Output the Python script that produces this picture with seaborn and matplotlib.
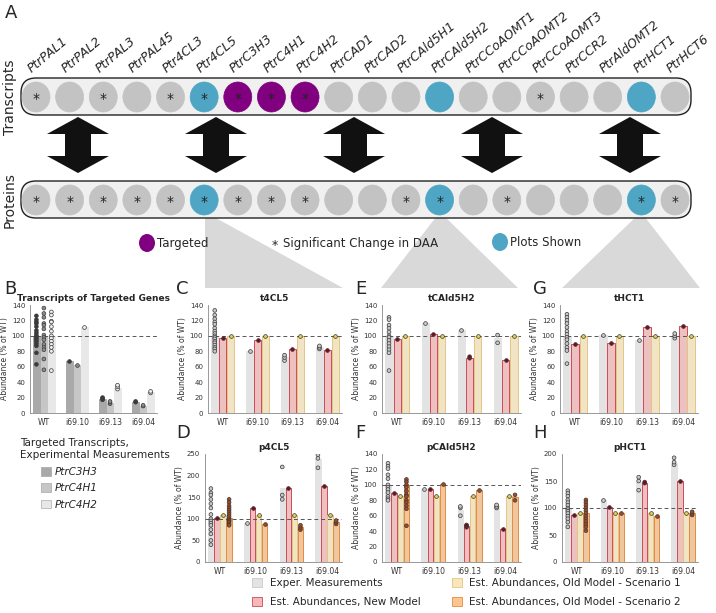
import numpy as np
import pandas as pd
import matplotlib
matplotlib.use('Agg')
import matplotlib.pyplot as plt
import seaborn as sns
from matplotlib.patches import Ellipse, FancyBboxPatch, Polygon, Patch

# --- panel A: genes and their state ---
genes = ['PtrPAL1', 'PtrPAL2', 'PtrPAL3', 'PtrPAL45', 'Ptr4CL3', 'Ptr4CL5', 'PtrC3H3',
         'PtrC4H1', 'PtrC4H2', 'PtrCAD1', 'PtrCAD2', 'PtrCAld5H1', 'PtrCAld5H2',
         'PtrCCoAOMT1', 'PtrCCoAOMT2', 'PtrCCoAOMT3', 'PtrCCR2', 'PtrAldOMT2', 'PtrHCT1', 'PtrHCT6']
tx_kind = ['g', 'g', 'g', 'g', 'g', 'b', 'p', 'p', 'p', 'g', 'g', 'g', 'b', 'g', 'g', 'g', 'g', 'g', 'b', 'g']
tx_star = [1, 0, 1, 0, 1, 1, 1, 1, 1, 0, 0, 0, 0, 0, 0, 1, 0, 0, 0, 0]
pr_kind = ['g', 'g', 'g', 'g', 'g', 'b', 'g', 'g', 'g', 'g', 'g', 'g', 'b', 'g', 'g', 'g', 'g', 'g', 'b', 'g']
pr_star = [1, 1, 1, 1, 1, 1, 1, 1, 1, 0, 0, 1, 1, 0, 1, 0, 0, 0, 1, 1]

lines = ['WT', 'i69.10', 'i69.13', 'i69.04']

# --- panel B: transcripts of targeted genes ---
b_series = ['PtrC3H3', 'PtrC4H1', 'PtrC4H2']
b_c3h3 = [100, 68, 18, 14]
b_c4h1 = [100, 62, 13, 9]
b_c4h2 = [100, 112, 33, 27]
b_c3h3_pts = [[126, 121, 118, 116, 112, 107, 104, 101, 99, 97, 95, 93, 90, 87, 78, 63], [68], [17, 19, 20], [14, 15]]
b_c4h1_pts = [[136, 129, 124, 116, 114, 109, 101, 98, 95, 89, 85, 82, 70, 56], [62], [12, 14, 15], [9, 10]]
b_c4h2_pts = [[131, 127, 119, 118, 112, 106, 100, 97, 93, 89, 85, 80, 55], [112], [31, 34, 36], [26, 28]]

series = ['Exper. Measurements', 'Est. Abundances, New Model',
          'Est. Abundances, Old Model - Scenario 1', 'Est. Abundances, Old Model - Scenario 2']

# --- C: t4CL5 ---
c_exp = [100, 80, 72, 85]
c_new = [97, 94, 83, 82]
c_old1 = [100, 100, 100, 100]
c_exp_pts = [[133, 127, 122, 118, 115, 110, 106, 103, 100, 98, 96, 93, 91, 88, 85, 83, 80], [80], [68, 72, 75], [83, 85, 87]]
c_new_pts = [[97], [94], [83], [82]]
c_old1_pts = [[100], [100], [100], [100]]

# --- D: p4CL5 ---
d_exp = [100, 90, 172, 238]
d_new = [103, 125, 172, 175]
d_old1 = [108, 108, 108, 108]
d_old2 = [103, 87, 80, 93]
d_exp_pts = [[170, 160, 155, 145, 135, 125, 110, 100, 95, 90, 85, 75, 65, 50, 40], [90], [145, 155, 220], [218, 240, 248]]
d_new_pts = [[103], [125], [172], [175]]
d_old1_pts = [[108], [108], [108], [108]]
d_old2_pts = [[145, 138, 130, 125, 120, 115, 110, 105, 100, 97, 95, 92, 88, 85], [87], [75, 80, 85], [88, 92, 96]]

# --- E: tCAld5H2 ---
e_exp = [100, 117, 107, 97]
e_new = [96, 102, 71, 69]
e_old1 = [100, 100, 100, 100]
e_exp_pts = [[124, 121, 114, 110, 105, 100, 98, 94, 90, 86, 82, 78, 55], [117], [107], [91, 101]]
e_new_pts = [[96], [102], [71, 73], [69]]
e_old1_pts = [[100], [100], [100], [100]]

# --- F: pCAld5H2 ---
f_exp = [100, 95, 67, 72]
f_new = [90, 95, 47, 43]
f_old1 = [86, 86, 86, 86]
f_old2 = [100, 101, 93, 84]
f_exp_pts = [[128, 124, 121, 113, 108, 100, 97, 94, 90, 85, 82, 80], [95], [60, 70, 72], [70, 72, 74]]
f_new_pts = [[90], [95], [45, 47, 48], [43]]
f_old1_pts = [[86], [86], [86], [86]]
f_old2_pts = [[107, 104, 100, 97, 92, 87, 85, 80, 77, 73, 69, 47], [101], [93], [80, 87]]

# --- G: tHCT1 ---
g_exp = [100, 101, 95, 100]
g_new = [90, 91, 111, 113]
g_old1 = [100, 100, 100, 100]
g_exp_pts = [[128, 124, 120, 116, 111, 106, 102, 98, 95, 90, 85, 81, 64], [101], [94], [97, 100, 103]]
g_new_pts = [[90], [91], [111], [113]]
g_old1_pts = [[100], [100], [100], [100]]

# --- H: pHCT1 ---
h_exp = [100, 115, 148, 183]
h_new = [87, 101, 147, 150]
h_old1 = [90, 90, 90, 90]
h_old2 = [90, 91, 85, 90]
h_exp_pts = [[132, 127, 122, 115, 110, 105, 100, 97, 94, 90, 85, 80, 74, 65], [115], [133, 150, 157], [180, 185, 193]]
h_new_pts = [[87], [101], [146, 148], [150]]
h_old1_pts = [[90], [90], [90], [90]]
h_old2_pts = [[115, 110, 105, 100, 95, 90, 85, 80, 75, 70, 65, 58], [91], [85], [87, 90, 93]]

bar_fill = ['#e3e3e3', '#f5b9b9', '#f9e7bc', '#fdc690']
bar_edge = ['#e3e3e3', '#cf4a58', '#e5c585', '#e38b42']
pt_fill = ['#c8c8c8', '#7a0d1c', '#e3d04e', '#a8461c']

W, H = 716, 613
BW = 0.68

sns.set_theme(style='white')
plt.rcParams['font.family'] = ['DejaVu Sans']

fig = plt.figure(figsize=(W / 100, H / 100), dpi=100)


def px_rect(l, t, r, b):
    return [l / W, 1 - b / H, (r - l) / W, (b - t) / H]


# overlay for panel A drawing in pixel units
ov = fig.add_axes([0, 0, 1, 1])
ov.set_xlim(0, W)
ov.set_ylim(H, 0)
ov.axis('off')

gene_x = np.linspace(36, 675, len(genes))
kind_col = {'g': '#c3c3c3', 'b': '#4ea6c4', 'p': '#800080'}

# triangles pointing at the panels
for top_x, lx, rx in [(205, 205, 343), (440, 381, 518), (641, 562, 700)]:
    ov.add_patch(Polygon([(top_x, 212), (lx, 288), (rx, 288)], closed=True,
                         fc='#d9d9d9', ec='none', zorder=1))

for cy, kinds, stars in [(97, tx_kind, tx_star), (200, pr_kind, pr_star)]:
    ov.add_patch(FancyBboxPatch((21, cy - 19), 670, 37,
                                boxstyle='round,pad=0,rounding_size=15',
                                fc='#f0f0f0', ec='#222222', lw=1, zorder=2))
    for x, k, s in zip(gene_x, kinds, stars):
        ov.add_patch(Ellipse((x, cy), 28, 30, fc=kind_col[k], ec=kind_col[k], lw=0.5, zorder=3))
        if s:
            ov.text(x, cy + 2, '*', ha='center', va='center', fontsize=10, color='#222', zorder=4)

for x, g in zip(gene_x, genes):
    ov.text(x - 4, 73, g, rotation=40, rotation_mode='anchor', ha='left', va='baseline',
            style='italic', fontsize=9)

ov.text(10, 97, 'Transcripts', rotation=90, ha='center', va='center', fontsize=10)
ov.text(10, 200, 'Proteins', rotation=90, ha='center', va='center', fontsize=10)

# double arrows
for x in [78, 216, 354, 492, 630]:
    t, b, hw, sw, hh = 117, 173, 31, 13, 17
    ov.add_patch(Polygon([(x, t), (x + hw, t + hh), (x + sw, t + hh), (x + sw, b - hh),
                          (x + hw, b - hh), (x, b), (x - hw, b - hh), (x - sw, b - hh),
                          (x - sw, t + hh), (x - hw, t + hh)], closed=True,
                         fc='#111111', ec='none', zorder=2))

# panel A legend
ov.add_patch(Ellipse((147, 243), 16, 18, fc=kind_col['p'], ec='none'))
ov.text(157, 243, 'Targeted', va='center', fontsize=8.5)
ov.text(275, 246, '*', ha='center', va='center', fontsize=9)
ov.text(283, 243, 'Significant Change in DAA', va='center', fontsize=8.5)
ov.add_patch(Ellipse((500, 242), 16, 18, fc=kind_col['b'], ec='none'))
ov.text(510, 242, 'Plots Shown', va='center', fontsize=8.5)


def panel(rect, names, bar_vals, pt_vals, fills, edges, pfills, ylim, yticks, title):
    ax = fig.add_axes(px_rect(*rect))
    bars = pd.DataFrame([(ln, s, v) for s, vals in zip(names, bar_vals) for ln, v in zip(lines, vals)],
                        columns=['line', 'series', 'value'])
    pts = pd.DataFrame([(ln, s, v) for s, groups in zip(names, pt_vals)
                        for ln, grp in zip(lines, groups) for v in grp],
                       columns=['line', 'series', 'value'])
    sns.barplot(data=bars, x='line', y='value', hue='series', order=lines, hue_order=names,
                palette=fills, width=BW, gap=0.1, errorbar=None, legend=False, ax=ax)
    for cont, ec in zip(ax.containers, edges):
        for p in cont:
            p.set_edgecolor(ec)
            p.set_linewidth(0.7)
    ax.axhline(100, color='#555555', ls='--', lw=0.7, dashes=(4, 3), zorder=3)
    sns.stripplot(data=pts, x='line', y='value', hue='series', order=lines, hue_order=names,
                  palette=pfills, dodge=True, jitter=False, size=2.7, linewidth=0.5,
                  edgecolor='#3a3a3a', legend=False, ax=ax, zorder=4)
    # pull the dots in so they sit on the narrower bars
    for coll in ax.collections:
        off = np.asarray(coll.get_offsets()).copy()
        if len(off):
            c = np.round(off[:, 0])
            off[:, 0] = c + (off[:, 0] - c) * BW / 0.8
            coll.set_offsets(off)
    ax.set_xlim(-0.42, 3.42)
    ax.set_ylim(*ylim)
    ax.set_yticks(yticks)
    ax.set_xlabel('')
    ax.set_ylabel('Abundance (% of WT)', fontsize=5.5, labelpad=2, color='#333')
    ax.set_title(title, fontsize=6.5, fontweight='bold', pad=3)
    ax.tick_params(labelsize=5.5, length=2, width=0.5, color='#777', pad=1.5, colors='#333')
    ax.tick_params(axis='y', labelsize=5)
    ax.set_facecolor('none')
    for side in ['top', 'right']:
        ax.spines[side].set_visible(False)
    for side in ['left', 'bottom']:
        ax.spines[side].set_color('#888888')
        ax.spines[side].set_linewidth(0.6)
    return ax


t_ticks = range(0, 141, 20)
panel((30, 305, 157, 413), b_series, [b_c3h3, b_c4h1, b_c4h2], [b_c3h3_pts, b_c4h1_pts, b_c4h2_pts],
      ['#a9a9a9', '#c6c6c6', '#e8e8e8'], ['#a9a9a9', '#c6c6c6', '#e8e8e8'],
      ['#3a3a3a', '#8c8c8c', '#efefef'], (0, 140), t_ticks, 'Transcripts of Targeted Genes')
panel((208, 305, 342, 413), series[:3], [c_exp, c_new, c_old1], [c_exp_pts, c_new_pts, c_old1_pts],
      bar_fill[:3], bar_edge[:3], pt_fill[:3], (0, 140), t_ticks, 't4CL5')
panel((205, 454, 342, 562), series, [d_exp, d_new, d_old1, d_old2],
      [d_exp_pts, d_new_pts, d_old1_pts, d_old2_pts],
      bar_fill, bar_edge, pt_fill, (0, 250), range(0, 251, 50), 'p4CL5')
panel((382, 305, 521, 413), series[:3], [e_exp, e_new, e_old1], [e_exp_pts, e_new_pts, e_old1_pts],
      bar_fill[:3], bar_edge[:3], pt_fill[:3], (0, 140), t_ticks, 'tCAld5H2')
panel((382, 454, 521, 562), series, [f_exp, f_new, f_old1, f_old2],
      [f_exp_pts, f_new_pts, f_old1_pts, f_old2_pts],
      bar_fill, bar_edge, pt_fill, (0, 140), t_ticks, 'pCAld5H2')
panel((560, 305, 698, 413), series[:3], [g_exp, g_new, g_old1], [g_exp_pts, g_new_pts, g_old1_pts],
      bar_fill[:3], bar_edge[:3], pt_fill[:3], (0, 140), t_ticks, 'tHCT1')
panel((562, 454, 698, 562), series, [h_exp, h_new, h_old1, h_old2],
      [h_exp_pts, h_new_pts, h_old1_pts, h_old2_pts],
      bar_fill, bar_edge, pt_fill, (0, 200), range(0, 201, 50), 'pHCT1')

# panel letters
for letter, x, y in [('A', 5, 4), ('B', 4, 280), ('C', 176, 280), ('D', 176, 424),
                     ('E', 355, 280), ('F', 355, 424), ('G', 533, 280), ('H', 533, 424)]:
    fig.text(x / W, 1 - y / H, letter, fontsize=13, va='top', ha='left')

# legend for B
fig.text(20 / W, 1 - 438 / H, 'Targeted Transcripts,\nExperimental Measurements',
         fontsize=7.5, va='top', ha='left', linespacing=1.25)
b_handles = [Patch(fc=c, ec='#9a9a9a', lw=0.4) for c in ['#a9a9a9', '#c6c6c6', '#e8e8e8']]
fig.legend(b_handles, b_series, loc='upper left', bbox_to_anchor=(41 / W, 1 - 467 / H),
           frameon=False, prop={'style': 'italic', 'size': 7.5}, handlelength=1.0,
           handleheight=0.9, labelspacing=0.6, handletextpad=0.3, borderpad=0, borderaxespad=0)

# bottom legend
handles = [Patch(fc=f, ec=e, lw=0.6) for f, e in zip(bar_fill, ['#c9c9c9'] + bar_edge[1:])]
fig.legend(handles, series, loc='upper left', bbox_to_anchor=(252 / W, 1 - 578 / H), ncol=2,
           frameon=False, fontsize=7.5, handlelength=1.0, handleheight=1.0, labelspacing=0.85,
           handletextpad=0.7, columnspacing=3.0, borderpad=0, borderaxespad=0)

fig.savefig('out.png', dpi=100)
